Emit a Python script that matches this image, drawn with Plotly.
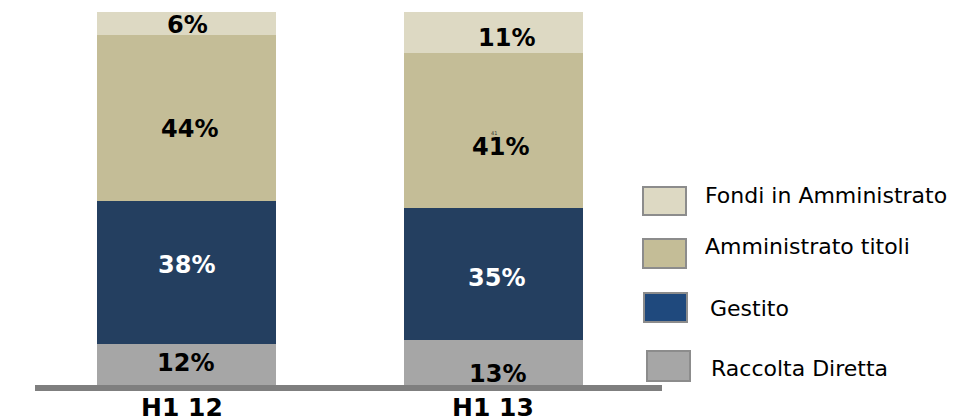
import plotly.graph_objects as go

# Data (percent of total)
CATEGORIES = ["H1 12", "H1 13"]
RACCOLTA = [12, 13]
GESTITO = [38, 35]
AMMINISTRATO = [44, 41]
FONDI = [6, 11]
SERIES_NAMES = ["Raccolta Diretta", "Gestito", "Amministrato titoli", "Fondi in Amministrato"]

# the page body has an 8px margin, so work in page pixels and subtract it
OFF = 8
W, H = 980 - OFF, 419 - OFF
# plot area in page pixels
PL, PR, PT, PB = 33, 647, 12, 389

BAR_COLORS = ["#a6a6a6", "#243f60", "#c4bd97", "#ddd9c3"]
LEGEND_COLORS = ["#a6a6a6", "#1f497d", "#c4bd97", "#ddd9c3"]
TEXT_COLORS = ["black", "white", "black", "black"]
FONT = "DejaVu Sans, Verdana, sans-serif"


def xp(px):
    return (px - PL) / (PR - PL)


def yp(py):
    return (PB - py) / (PB - PT)


series = [RACCOLTA, GESTITO, AMMINISTRATO, FONDI]

fig = go.Figure()
for name, vals, col in zip(SERIES_NAMES, series, BAR_COLORS):
    fig.add_trace(
        go.Bar(
            x=CATEGORIES,
            y=vals,
            name=name,
            marker=dict(color=col, line=dict(width=0)),
            width=0.586,
            showlegend=False,
            hoverinfo="skip",
        )
    )

# value labels, nudged like in the original slide
shifts = {
    0: [(-1, 3), (0, 7), (3, -11), (1, -2)],
    1: [(4, -9), (3, -4), (7, -16), (13, -5)],
}
annotations = []
for ci, cat in enumerate(CATEGORIES):
    base = 0
    for si, vals in enumerate(series):
        v = vals[ci]
        dx, dy = shifts[ci][si]
        annotations.append(
            dict(
                x=cat, y=base + v / 2, xref="x", yref="y",
                text=f"<b>{v}%</b>", showarrow=False,
                xshift=dx, yshift=dy,
                font=dict(family=FONT, size=24, color=TEXT_COLORS[si]),
            )
        )
        base += v

# stray tiny label in the original
annotations.append(
    dict(x=CATEGORIES[1], y=RACCOLTA[1] + GESTITO[1] + AMMINISTRATO[1] / 2,
         text=f"{AMMINISTRATO[1]}", showarrow=False, yshift=-2,
         font=dict(family=FONT, size=5, color="#333333"))
)

# category labels below the base line
for cat, px in zip(CATEGORIES, [181.5, 493]):
    annotations.append(
        dict(x=xp(px), y=yp(408), xref="paper", yref="paper",
             text=f"<b>{cat}</b>", showarrow=False,
             xanchor="center", yanchor="middle",
             font=dict(family=FONT, size=25, color="black"))
    )

shapes = [
    dict(type="line", xref="paper", yref="paper",
         x0=xp(35), x1=xp(662), y0=yp(388), y1=yp(388),
         line=dict(color="#7f7f7f", width=6), layer="above"),
]

# manual legend, top to bottom
legend_boxes = [(643, 187, 215, 703, 196), (643, 239, 268, 703, 246),
                (644, 293, 322, 708, 308), (647, 351, 381, 709, 368)]
for idx, (bx, by0, by1, tx, ty) in zip([3, 2, 1, 0], legend_boxes):
    shapes.append(
        dict(type="rect", xref="paper", yref="paper",
             x0=xp(bx), x1=xp(bx + 43), y0=yp(by1), y1=yp(by0),
             fillcolor=LEGEND_COLORS[idx], line=dict(color="#8c8c8c", width=2))
    )
    annotations.append(
        dict(x=xp(tx), y=yp(ty), xref="paper", yref="paper",
             text=SERIES_NAMES[idx], showarrow=False,
             xanchor="left", yanchor="middle",
             font=dict(family=FONT, size=22, color="black"))
    )

fig.update_layout(
    barmode="stack",
    width=W,
    height=H,
    margin=dict(l=PL - OFF, r=980 - PR, t=PT - OFF, b=419 - PB, pad=0),
    paper_bgcolor="white",
    plot_bgcolor="white",
    xaxis=dict(range=[-0.5, 1.5], showticklabels=False, showgrid=False,
               zeroline=False, showline=False, ticks=""),
    yaxis=dict(range=[0, 100], visible=False),
    annotations=annotations,
    shapes=shapes,
    showlegend=False,
)

fig.write_html("out.html")
